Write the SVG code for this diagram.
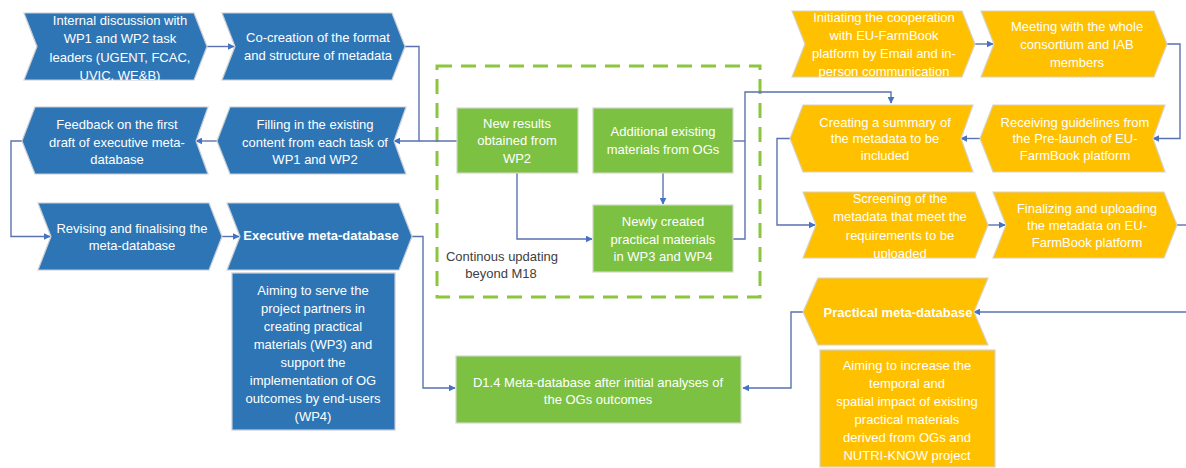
<svg xmlns="http://www.w3.org/2000/svg" width="1186" height="468" viewBox="0 0 1186 468">
<defs>
<marker id="ah" viewBox="0 0 10 10" refX="9" refY="5" markerWidth="7" markerHeight="7" markerUnits="userSpaceOnUse" orient="auto">
<path d="M0,0 L10,5 L0,10 z" fill="#4472c4"/>
</marker>
<style>
.b{fill:#2e75b6;stroke:#c8ccd4;stroke-width:1.2}
.o{fill:#ffc000;stroke:#d9d2c0;stroke-width:1.2}
.g{fill:#7cc142;stroke:#d0d8c8;stroke-width:1.2}
.t{font-family:"Liberation Sans",Arial,sans-serif;font-size:13px;fill:#ffffff;text-anchor:middle}
.tb{font-weight:bold}
.d{font-family:"Liberation Sans",Arial,sans-serif;font-size:13px;fill:#404040;text-anchor:middle}
.c{fill:none;stroke:#5a72b2;stroke-width:1.4}
.ca{fill:none;stroke:#5a72b2;stroke-width:1.4;marker-end:url(#ah)}
</style>
</defs>
<rect width="1186" height="468" fill="#ffffff"/>

<rect id="update-frame" x="437" y="66" width="323" height="231" fill="none" stroke="#8cc63f" stroke-width="3" stroke-dasharray="15,9"/>

<g id="connectors">
<path class="ca" d="M207,46.5 H234"/>
<path class="ca" d="M405,46.5 H419 V141 H394"/>
<path class="c" d="M458,141 H419"/>
<path class="ca" d="M217,141 H196"/>
<path class="ca" d="M24,141 H11 V236.5 H50"/>
<path class="ca" d="M222,236.5 H239"/>
<path class="ca" d="M412,236.5 H423 V388 H455"/>
<path class="ca" d="M663,173 V204"/>
<path class="ca" d="M517,173 V239 H592"/>
<path class="c" d="M733,141 H745"/>
<path class="ca" d="M733,239 H745 V92 H891 V103"/>
<path class="ca" d="M975,44 H993"/>
<path class="ca" d="M1167,44 H1180 V138.5 H1153"/>
<path class="ca" d="M980,138.5 H961"/>
<path class="ca" d="M790,138.5 H777 V225 H815"/>
<path class="ca" d="M988,225 H1005"/>
<path class="c" d="M1177,225 H1186"/>
<path class="ca" d="M1186,312 H974"/>
<path class="ca" d="M803,312 H791 V388 H743"/>
</g>

<g id="internal-discussion">
<polygon class="b" points="24,13 194,13 207,46.5 194,80 24,80 37,46.5"/>
<text class="t" x="120" y="24.5">Internal discussion with</text>
<text class="t" x="120" y="43">WP1 and WP2 task</text>
<text class="t" x="120" y="61.5">leaders (UGENT, FCAC,</text>
<text class="t" x="120" y="80">UVIC, WE&amp;B)</text>
</g>

<g id="co-creation">
<polygon class="b" points="222,13 392,13 405,46.5 392,80 222,80 235,46.5"/>
<text class="t" x="318" y="42">Co-creation of the format</text>
<text class="t" x="318" y="60">and structure of metadata</text>
</g>

<g id="feedback">
<polygon class="b" points="35,107 208,107 196,141 208,174 35,174 22,141"/>
<text class="t" x="117" y="129">Feedback on the first</text>
<text class="t" x="117" y="146.5">draft of executive meta-</text>
<text class="t" x="117" y="164">database</text>
</g>

<g id="filling">
<polygon class="b" points="230,107 406,107 394,141 406,174 230,174 217,141"/>
<text class="t" x="315" y="129">Filling in the existing</text>
<text class="t" x="315" y="146.5">content from each task of</text>
<text class="t" x="315" y="164">WP1 and WP2</text>
</g>

<g id="revising">
<polygon class="b" points="38,203 209,203 222,236.5 209,270 38,270 51,236.5"/>
<text class="t" x="132" y="232.5">Revising and finalising the</text>
<text class="t" x="132" y="250">meta-database</text>
</g>

<g id="executive-meta-database">
<polygon class="b" points="227,203 399,203 412,236.5 399,270 227,270 240,236.5"/>
<text class="t tb" x="321" y="240">Executive meta-database</text>
</g>

<g id="executive-aim">
<rect class="b" x="232" y="273" width="163" height="157"/>
<text class="t" x="313" y="294.5">Aiming to serve the</text>
<text class="t" x="313" y="312.5">project partners in</text>
<text class="t" x="313" y="330.5">creating practical</text>
<text class="t" x="313" y="348.5">materials (WP3) and</text>
<text class="t" x="313" y="366.5">support the</text>
<text class="t" x="313" y="384.5">implementation of OG</text>
<text class="t" x="313" y="402.5">outcomes by end-users</text>
<text class="t" x="313" y="420.5">(WP4)</text>
</g>

<g id="new-results">
<rect class="g" x="457" y="108" width="121" height="65"/>
<text class="t" x="517" y="127.5">New results</text>
<text class="t" x="517" y="145">obtained from</text>
<text class="t" x="517" y="162.5">WP2</text>
</g>

<g id="additional-materials">
<rect class="g" x="593" y="108" width="140" height="65"/>
<text class="t" x="663" y="136">Additional existing</text>
<text class="t" x="663" y="153.5">materials from OGs</text>
</g>

<g id="newly-created">
<rect class="g" x="593" y="205" width="140" height="67"/>
<text class="t" x="663" y="226">Newly created</text>
<text class="t" x="663" y="243.5">practical materials</text>
<text class="t" x="663" y="261">in WP3 and WP4</text>
</g>

<g id="continuous-label">
<text class="d" x="502" y="261">Continous updating</text>
<text class="d" x="501" y="278">beyond M18</text>
</g>

<g id="d14">
<rect class="g" x="456" y="356" width="285" height="67"/>
<text class="t" x="598" y="386.5">D1.4 Meta-database after initial analyses of</text>
<text class="t" x="598" y="404">the OGs outcomes</text>
</g>

<g id="initiating">
<polygon class="o" points="792,11 962,11 975,44 962,77 792,77 805,44"/>
<text class="t" x="884" y="22">Initiating the cooperation</text>
<text class="t" x="884" y="40">with EU-FarmBook</text>
<text class="t" x="884" y="58">platform by Email and in-</text>
<text class="t" x="884" y="76">person communication</text>
</g>

<g id="meeting">
<polygon class="o" points="981,11 1154,11 1167,44 1154,77 981,77 994,44"/>
<text class="t" x="1077" y="31">Meeting with the whole</text>
<text class="t" x="1077" y="49">consortium and IAB</text>
<text class="t" x="1077" y="67">members</text>
</g>

<g id="creating-summary">
<polygon class="o" points="803,105 973,105 961,138.5 973,172 803,172 790,138.5"/>
<text class="t" x="885" y="126.5">Creating a summary of</text>
<text class="t" x="885" y="143">the metadata to be</text>
<text class="t" x="885" y="159.5">included</text>
</g>

<g id="receiving-guidelines">
<polygon class="o" points="993,105 1165,105 1153,138.5 1165,172 993,172 980,138.5"/>
<text class="t" x="1075" y="126.5">Receiving guidelines from</text>
<text class="t" x="1075" y="143">the Pre-launch of EU-</text>
<text class="t" x="1075" y="159.5">FarmBook platform</text>
</g>

<g id="screening">
<polygon class="o" points="803,192 975,192 988,225 975,258 803,258 816,225"/>
<text class="t" x="900" y="202.5">Screening of the</text>
<text class="t" x="900" y="221">metadata that meet the</text>
<text class="t" x="900" y="239.5">requirements to be</text>
<text class="t" x="900" y="258">uploaded</text>
</g>

<g id="finalizing">
<polygon class="o" points="993,192 1164,192 1177,225 1164,258 993,258 1006,225"/>
<text class="t" x="1087" y="212.5">Finalizing and uploading</text>
<text class="t" x="1087" y="229.5">the metadata on EU-</text>
<text class="t" x="1087" y="246.5">FarmBook platform</text>
</g>

<g id="practical-meta-database">
<polygon class="o" points="818,278 988,278 974,312 988,345 818,345 803,312"/>
<text class="t tb" x="898" y="316.5">Practical meta-database</text>
</g>

<g id="practical-aim">
<rect class="o" x="820" y="350" width="175" height="117"/>
<text class="t" x="907" y="369.5">Aiming to increase the</text>
<text class="t" x="907" y="387.5">temporal and</text>
<text class="t" x="907" y="405.5">spatial impact of existing</text>
<text class="t" x="907" y="423.5">practical materials</text>
<text class="t" x="907" y="441.5">derived from OGs and</text>
<text class="t" x="907" y="459.5">NUTRI-KNOW project</text>
</g>
</svg>
